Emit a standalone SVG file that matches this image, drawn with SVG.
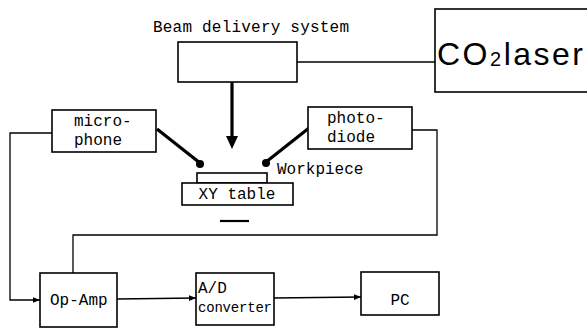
<svg xmlns="http://www.w3.org/2000/svg" width="587" height="329" viewBox="0 0 587 329">
<style>
.box{fill:#fff;stroke:#000;stroke-width:1.6}
.wire{fill:none;stroke:#000;stroke-width:1.3}
.thick{fill:none;stroke:#000;stroke-width:3.2}
.t{font-family:"Liberation Mono","DejaVu Sans Mono",monospace;font-size:16px;fill:#000}
</style>
<defs>
<marker id="arr" viewBox="0 0 10 10" refX="10" refY="5" markerWidth="7" markerHeight="7" markerUnits="userSpaceOnUse" orient="auto">
<path d="M0,1 L10,5 L0,9 Z" fill="#000"/>
</marker>
<marker id="bigarr" viewBox="0 0 10 10" refX="10" refY="5" markerWidth="12" markerHeight="12" markerUnits="userSpaceOnUse" orient="auto">
<path d="M0,1.5 L10,5 L0,8.5 Z" fill="#000"/>
</marker>
</defs>
<rect width="587" height="329" fill="#fff"/>
<g id="connectors">
<line class="wire" x1="297" y1="62" x2="435" y2="62"/>
<line class="thick" x1="232" y1="82" x2="232" y2="137"/>
<path d="M226,136 L238,136 L232,149 Z" fill="#000"/>
<line class="thick" x1="157" y1="129" x2="200" y2="163"/>
<circle cx="200" cy="164" r="4" fill="#000"/>
<line class="thick" x1="309" y1="128" x2="266" y2="162"/>
<circle cx="266" cy="163" r="4" fill="#000"/>
<polyline class="wire" points="52,133 10,133 10,300 40,300" marker-end="url(#arr)"/>
<polyline class="wire" points="412,130 437,130 437,235 73,235 73,273"/>
<line class="wire" x1="117" y1="299" x2="196" y2="298" marker-end="url(#arr)"/>
<line class="wire" x1="274" y1="298" x2="361" y2="297" marker-end="url(#arr)"/>
<line x1="220" y1="221" x2="249" y2="221" stroke="#000" stroke-width="2.2"/>
</g>
<g id="beam-delivery">
<text class="t" x="153" y="32" textLength="196" lengthAdjust="spacing">Beam delivery system</text>
<rect class="box" x="178" y="42" width="119" height="40"/>
</g>
<g id="co2-laser">
<rect class="box" x="435" y="9" width="160" height="83"/>
<text x="437" y="65" font-family="'Liberation Sans',Arial,sans-serif" font-size="32" letter-spacing="2.5">CO<tspan font-size="20" dy="1">2</tspan><tspan dy="-1">laser</tspan></text>
</g>
<g id="microphone">
<rect class="box" x="52" y="110" width="104" height="42"/>
<text class="t" x="74" y="126">micro-</text>
<text class="t" x="74" y="145">phone</text>
</g>
<g id="photodiode">
<rect class="box" x="308" y="107" width="104" height="42"/>
<text class="t" x="327" y="123">photo-</text>
<text class="t" x="327" y="142">diode</text>
</g>
<g id="workpiece">
<rect class="box" x="197" y="173" width="70" height="10"/>
<text class="t" x="277" y="174">Workpiece</text>
</g>
<g id="xy-table">
<rect class="box" x="182" y="183" width="111" height="22"/>
<text class="t" x="237" y="199" text-anchor="middle">XY table</text>
</g>
<g id="op-amp">
<rect class="box" x="40" y="273" width="77" height="54"/>
<text class="t" x="50" y="305">Op-Amp</text>
</g>
<g id="ad-converter">
<rect class="box" x="196" y="273" width="78" height="52"/>
<text class="t" x="198" y="293">A/D</text>
<text class="t" x="198" y="312" font-size="14" textLength="74" lengthAdjust="spacing" style="font-size:14px">converter</text>
</g>
<g id="pc">
<rect class="box" x="361" y="272" width="78" height="43"/>
<text class="t" x="400" y="305" text-anchor="middle">PC</text>
</g>
</svg>
